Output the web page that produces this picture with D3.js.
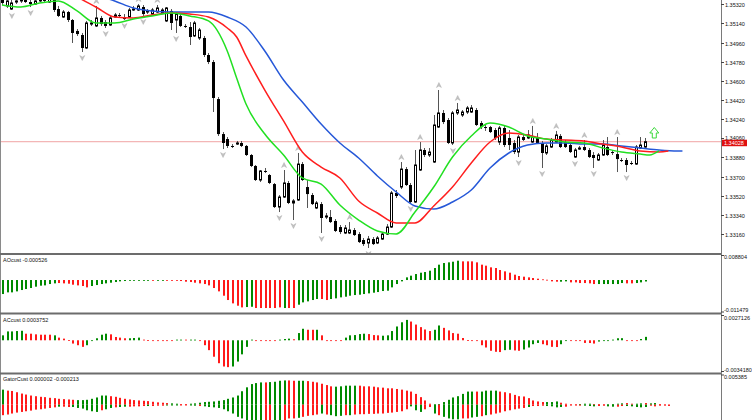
<!DOCTYPE html>
<html>
<head>
<meta charset="utf-8">
<script src="https://cdn.jsdelivr.net/npm/d3@7"></script>
<style>
  body { margin: 0; background: #fff; }
  svg { display: block; font-family: "Liberation Sans", Arial, sans-serif; }
</style>
</head>
<body>
<div id="chart"></div>
<script>
// candles (index 0..137)
const opens = [
  1.35379,1.35304,1.35275,1.35341,1.35351,1.35360,1.35341,1.35322,1.35351,1.35379,
  1.35341,1.35360,1.35275,1.35200,1.35247,1.35172,1.35069,1.35031,1.34909,1.35134,
  1.35116,1.35191,1.35153,1.35125,1.35200,1.35219,1.35200,1.35200,1.35266,1.35266,
  1.35294,1.35247,1.35228,1.35247,1.35238,1.35163,1.35257,1.35172,1.35210,1.35116,
  1.35106,1.35022,1.35003,1.35003,1.34843,1.34777,1.34429,1.34100,1.34053,1.33988,
  1.34006,1.34016,1.33988,1.33903,1.33800,1.33668,1.33753,1.33715,1.33630,1.33414,
  1.33508,1.33640,1.33452,1.33480,1.33818,1.33602,1.33527,1.33405,1.33442,1.33320,
  1.33320,1.33283,1.33226,1.33170,1.33170,1.33198,1.33160,1.33104,1.33076,1.33113,
  1.33076,1.33113,1.33160,1.33226,1.33546,1.33602,1.33771,1.33621,1.33461,1.33762,
  1.33950,1.33903,1.33837,1.34166,1.34298,1.34232,1.34016,1.34298,1.34279,1.34307,
  1.34307,1.34326,1.34204,1.34166,1.34166,1.34138,1.34025,1.34157,1.34063,1.34016,
  1.33931,1.34072,1.34063,1.34025,1.34063,1.34016,1.33922,1.33978,1.34025,1.34082,
  1.34025,1.33997,1.33884,1.33959,1.33978,1.33950,1.33903,1.33856,1.33903,1.33978,
  1.33931,1.33912,1.33856,1.33856,1.33828,1.33818,1.33969,1.33978
];
const highs = [
  1.35407,1.35379,1.35360,1.35369,1.35388,1.35379,1.35360,1.35369,1.35398,1.35398,
  1.35388,1.35379,1.35304,1.35266,1.35257,1.35181,1.35087,1.35050,1.35163,1.35172,
  1.35304,1.35210,1.35172,1.35210,1.35238,1.35238,1.35228,1.35285,1.35304,1.35322,
  1.35313,1.35275,1.35285,1.35313,1.35285,1.35294,1.35275,1.35247,1.35228,1.35134,
  1.35153,1.35163,1.35097,1.35022,1.34862,1.34796,1.34448,1.34119,1.34072,1.34006,
  1.34035,1.34035,1.33997,1.33912,1.33809,1.33762,1.33781,1.33724,1.33640,1.33527,
  1.33762,1.33659,1.33489,1.33922,1.33837,1.33668,1.33546,1.33471,1.33461,1.33358,
  1.33386,1.33301,1.33245,1.33245,1.33273,1.33217,1.33179,1.33123,1.33142,1.33132,
  1.33142,1.33179,1.33254,1.33565,1.33574,1.33837,1.33790,1.33640,1.33950,1.34025,
  1.33969,1.33969,1.34279,1.34514,1.34326,1.34251,1.34317,1.34392,1.34326,1.34364,
  1.34373,1.34345,1.34223,1.34185,1.34176,1.34157,1.34176,1.34176,1.34138,1.34044,
  1.34091,1.34091,1.34138,1.34176,1.34110,1.34035,1.34006,1.34063,1.34129,1.34100,
  1.34044,1.34016,1.33969,1.33988,1.34044,1.33969,1.33931,1.33922,1.34044,1.34072,
  1.33950,1.34072,1.33875,1.33875,1.33847,1.33997,1.34072,1.34063
];
const lows = [
  1.35313,1.35285,1.35266,1.35322,1.35332,1.35332,1.35294,1.35313,1.35341,1.35332,
  1.35332,1.35247,1.35200,1.35191,1.35153,1.34956,1.35022,1.34871,1.34899,1.35116,
  1.35106,1.35116,1.35097,1.35116,1.35191,1.35200,1.35172,1.35191,1.35257,1.35257,
  1.35210,1.35228,1.35219,1.35238,1.35228,1.35153,1.35078,1.35050,1.35106,1.35097,
  1.34937,1.35012,1.34984,1.34824,1.34758,1.34307,1.34082,1.33959,1.33969,1.33969,
  1.33997,1.33978,1.33894,1.33790,1.33659,1.33649,1.33734,1.33630,1.33405,1.33367,
  1.33499,1.33442,1.33292,1.33471,1.33659,1.33405,1.33433,1.33395,1.33170,1.33301,
  1.33264,1.33179,1.33160,1.33160,1.33160,1.33142,1.33076,1.33048,1.33029,1.33057,
  1.33066,1.33104,1.33151,1.33217,1.33499,1.33583,1.33612,1.33452,1.33452,1.33753,
  1.33884,1.33884,1.33828,1.34157,1.34194,1.34006,1.33997,1.34279,1.34260,1.34288,
  1.34298,1.34176,1.34147,1.34129,1.34110,1.34044,1.33997,1.33978,1.33950,1.33912,
  1.33884,1.34035,1.34053,1.34016,1.34006,1.33781,1.33903,1.33969,1.34016,1.33969,
  1.33969,1.33922,1.33875,1.33950,1.33941,1.33875,1.33781,1.33847,1.33894,1.33894,
  1.33903,1.33743,1.33837,1.33743,1.33809,1.33809,1.33959,1.33969
];
const closes = [
  1.35332,1.35351,1.35332,1.35351,1.35369,1.35341,1.35322,1.35351,1.35379,1.35351,
  1.35369,1.35266,1.35210,1.35247,1.35172,1.35050,1.35040,1.34909,1.35144,1.35144,
  1.35191,1.35134,1.35116,1.35191,1.35219,1.35214,1.35181,1.35266,1.35275,1.35304,
  1.35228,1.35257,1.35266,1.35285,1.35266,1.35285,1.35144,1.35228,1.35116,1.35111,
  1.35012,1.35144,1.35078,1.34843,1.34777,1.34439,1.34100,1.34016,1.33988,1.33983,
  1.34016,1.33988,1.33903,1.33800,1.33668,1.33753,1.33748,1.33640,1.33414,1.33508,
  1.33640,1.33452,1.33471,1.33818,1.33668,1.33536,1.33442,1.33452,1.33311,1.33330,
  1.33273,1.33189,1.33179,1.33217,1.33198,1.33151,1.33085,1.33066,1.33113,1.33066,
  1.33123,1.33160,1.33226,1.33546,1.33518,1.33771,1.33621,1.33461,1.33809,1.33950,
  1.33903,1.33931,1.34185,1.34298,1.34213,1.34016,1.34298,1.34326,1.34307,1.34345,
  1.34345,1.34185,1.34166,1.34162,1.34119,1.34063,1.34157,1.33997,1.33997,1.33931,
  1.34072,1.34044,1.34091,1.34072,1.34016,1.33922,1.33988,1.34044,1.34091,1.33978,
  1.33978,1.33931,1.33950,1.33969,1.33950,1.33884,1.33875,1.33903,1.33997,1.33903,
  1.33922,1.33865,1.33851,1.33809,1.33823,1.33978,1.33997,1.34028
];

const fractalUp = [20, 29, 33, 60, 63, 74, 85, 89, 93, 97, 113, 118, 124, 131];
const fractalDown = [2, 6, 17, 22, 26, 30, 37, 47, 59, 62, 68, 78, 87, 96, 110, 115, 122, 126, 133];

// alligator lines read at bar indices
const jawIdx = [0,4,8,12,16,20,24,28,32,36,40,44,48,52,56,60,64,68,72,76,80,84,88,92,96,100,104,108,112,116,120,124,128,132,136,140,144,145];
const jawVals = [1.35623,1.35586,1.35548,1.35501,1.35454,1.35407,1.35351,1.35285,1.35257,1.35247,1.35247,1.35247,1.35200,1.35106,1.34881,1.34608,1.34401,1.34194,1.34016,1.33875,1.33706,1.33555,1.33424,1.33395,1.33461,1.33574,1.33781,1.33922,1.33997,1.34016,1.34016,1.34006,1.34006,1.33988,1.33969,1.33950,1.33941,1.33941];
const teethIdx = [0,4,8,12,16,20,24,28,32,36,40,44,48,50,52,56,60,64,68,72,76,80,84,88,92,96,100,104,108,112,116,120,124,128,132,136,140,142];
const teethVals = [1.35595,1.35567,1.35529,1.35473,1.35388,1.35294,1.35200,1.35191,1.35219,1.35238,1.35228,1.35200,1.35097,1.35012,1.34834,1.34514,1.34223,1.33931,1.33790,1.33687,1.33471,1.33358,1.33264,1.33264,1.33424,1.33602,1.33828,1.34025,1.34110,1.34091,1.34053,1.34044,1.34035,1.34006,1.33978,1.33941,1.33931,1.33941];
const lipsIdx = [0,4,8,12,16,20,24,28,32,36,40,44,48,50,52,56,60,64,68,72,76,80,84,88,92,96,100,104,108,112,116,120,124,128,132,136,138,140];
const lipsVals = [1.35313,1.35294,1.35332,1.35351,1.35257,1.35144,1.35144,1.35181,1.35210,1.35238,1.35210,1.35163,1.34881,1.34627,1.34382,1.34100,1.33903,1.33687,1.33630,1.33433,1.33292,1.33189,1.33160,1.33367,1.33602,1.33884,1.34082,1.34204,1.34166,1.34082,1.34053,1.34025,1.34016,1.33969,1.33931,1.33912,1.33903,1.33941];

const priceTicks = [1.35320,1.35140,1.34960,1.34780,1.34600,1.34420,1.34240,1.34060,1.33880,1.33700,1.33520,1.33340,1.33160];
const bidPrice = 1.34028;
const signalIdx = 139, signalPrice = 1.34063;

// AOcust
const aoVals = [
  -0.00503,-0.00443,-0.00443,-0.00407,-0.00359,-0.00323,-0.00287,-0.00239,-0.00203,-0.00192,
  -0.00144,-0.00120,-0.00108,-0.00120,-0.00132,-0.00168,-0.00192,-0.00215,-0.00263,-0.00215,
  -0.00180,-0.00144,-0.00120,-0.00096,-0.00072,-0.00048,-0.00036,-0.00024,-0.00012,-0.00010,
  -0.00008,-0.00006,-0.00007,-0.00005,-0.00004,-0.00008,-0.00012,-0.00024,-0.00036,-0.00060,
  -0.00072,-0.00096,-0.00120,-0.00144,-0.00192,-0.00287,-0.00407,-0.00563,-0.00718,-0.00838,
  -0.00922,-0.00982,-0.00970,-0.00960,-0.01005,-0.01005,-0.01005,-0.01005,-0.01005,-0.00982,
  -0.01005,-0.01005,-0.01005,-0.00886,-0.00802,-0.00766,-0.00718,-0.00682,-0.00682,-0.00718,
  -0.00682,-0.00658,-0.00622,-0.00599,-0.00563,-0.00539,-0.00527,-0.00503,-0.00479,-0.00455,
  -0.00431,-0.00395,-0.00383,-0.00263,-0.00144,-0.00048,0.00096,0.00156,0.00215,0.00263,
  0.00287,0.00335,0.00431,0.00551,0.00610,0.00634,0.00658,0.00694,0.00670,0.00670,
  0.00670,0.00634,0.00551,0.00515,0.00455,0.00431,0.00359,0.00311,0.00263,0.00192,
  0.00144,0.00120,0.00096,0.00072,0.00048,0.00024,0.00010,-0.00048,-0.00060,-0.00060,
  -0.00048,-0.00084,-0.00084,-0.00108,-0.00108,-0.00120,-0.00144,-0.00144,-0.00144,-0.00144,
  -0.00144,-0.00144,-0.00108,-0.00120,-0.00120,-0.00108,-0.00084,-0.000526
];
const aoUp = [
  1,1,1,1,1,1,1,1,1,1, 1,1,0,0,0,0,0,0,0,1, 1,1,1,1,1,1,1,1,1,1, 1,1,0,1,1,0,0,0,0,0,
  0,0,0,0,0,0,0,0,0,0, 0,0,1,1,0,0,0,0,0,0, 1,0,0,1,1,1,1,1,0,0, 1,1,1,1,1,1,1,1,1,1,
  1,1,1,1,1,1,1,1,1,1, 1,1,1,1,1,1,1,1,0,0, 0,0,0,0,0,0,0,0,0,0, 0,0,0,0,0,0,0,0,0,1,
  1,0,0,0,0,0,0,1,1,1, 1,1,1,0,0,1,1,1
];

// ACcust
const acVals = [
  0.00054,0.00097,0.00097,0.00101,0.00104,0.00072,0.00072,0.00065,0.00061,0.00061,
  0.00061,0.00054,0.00029,0.00018,0.00003,-0.00036,-0.00054,-0.00072,-0.00054,-0.00007,
  0.00022,0.00061,0.00072,0.00065,0.00036,0.00029,0.00022,0.00022,0.00025,0.00029,
  0.00007,0.00002,-0.00004,-0.00005,-0.00007,-0.00007,-0.00005,0.00007,0.00007,0.00007,
  0.00007,0.00007,-0.00007,-0.00054,-0.00108,-0.00180,-0.00251,-0.00287,-0.00294,-0.00287,
  -0.00233,-0.00154,-0.00072,0.00007,-0.00007,-0.00004,-0.00004,-0.00004,-0.00004,0.00007,
  0.00014,0.00018,0.00011,0.00079,0.00126,0.00115,0.00115,0.00115,0.00054,-0.00002,
  -0.00002,-0.00002,-0.00002,0.00029,0.00054,0.00057,0.00068,0.00072,0.00068,0.00057,
  0.00054,0.00050,0.00054,0.00101,0.00151,0.00197,0.00223,0.00205,0.00172,0.00144,
  0.00118,0.00101,0.00115,0.00162,0.00136,0.00108,0.00079,0.00072,0.00025,0.00002,
  -0.00004,-0.00007,-0.00054,-0.00079,-0.00115,-0.00126,-0.00129,-0.00108,-0.00104,-0.00111,
  -0.00115,-0.00101,-0.00079,-0.00043,-0.00029,-0.00043,-0.00054,-0.00072,-0.00074,-0.00043,
  -0.00007,-0.00004,-0.00005,-0.00006,-0.00029,-0.00030,-0.00036,-0.00014,-0.00007,-0.00004,
  0.00007,0.00022,0.00023,-0.00003,-0.00004,-0.00005,0.00014,0.0003752
];
const acUp = [
  1,1,1,1,1,0,0,0,0,0, 0,1,0,0,0,0,0,0,1,1, 1,1,1,0,0,0,0,1,1,1, 0,0,0,0,0,0,0,1,1,0,
  1,1,0,0,0,0,0,0,0,1, 1,1,1,1,0,0,0,0,0,1, 1,1,0,1,1,0,0,1,0,0, 0,0,0,1,1,1,1,1,0,0,
  0,1,1,1,1,1,1,0,0,0, 0,0,1,1,0,0,0,0,0,0, 0,0,0,0,0,0,0,1,1,0, 0,1,1,1,1,0,0,0,0,1,
  1,0,0,0,0,0,0,1,1,1, 1,1,1,0,0,0,1,1
];

// GatorCust (index 0..142, runs 5 bars past the last candle)
const gatorUp = [
  0.00273,0.00255,0.00249,0.00226,0.00202,0.00184,0.00166,0.00154,0.00143,0.00137,
  0.00125,0.00119,0.00107,0.00101,0.00095,0.00089,0.00083,0.00083,0.00089,0.00107,
  0.00131,0.00166,0.00166,0.00154,0.00143,0.00125,0.00107,0.00095,0.00083,0.00077,
  0.00071,0.00065,0.00053,0.00042,0.00036,0.00030,0.00024,0.00018,0.00012,0.00012,
  0.00018,0.00024,0.00036,0.00048,0.00053,0.00059,0.00071,0.00083,0.00107,0.00131,
  0.00166,0.00244,0.00315,0.00374,0.00392,0.00404,0.00404,0.00410,0.00416,0.00434,
  0.00440,0.00440,0.00434,0.00434,0.00434,0.00428,0.00416,0.00404,0.00380,0.00356,
  0.00333,0.00327,0.00333,0.00345,0.00345,0.00345,0.00345,0.00333,0.00333,0.00327,
  0.00315,0.00309,0.00297,0.00297,0.00285,0.00273,0.00255,0.00238,0.00196,0.00137,
  0.00077,0.00018,0.00006,0.00012,0.00048,0.00089,0.00131,0.00154,0.00196,0.00238,
  0.00238,0.00238,0.00238,0.00255,0.00255,0.00255,0.00238,0.00226,0.00208,0.00178,
  0.00154,0.00149,0.00119,0.00077,0.00059,0.00048,0.00048,0.00048,0.00059,0.00036,
  0.00018,0.00006,0.00006,0.00012,0.00018,0.00018,0.00012,0.00012,0.00006,0.00006,
  0.00012,0.00018,0.00024,0.00030,0.00018,0.00018,0.00024,0.00030,0.00024,0.00030,
  0.00012,0.00004,0.000002
];
const gatorUpCol = [
  1,0,0,0,0,0,0,0,0,0, 0,0,0,0,0,0,1,1,1,1, 1,1,1,0,0,0,0,0,0,0, 0,0,0,0,0,0,1,1,0,0,
  1,1,1,1,1,1,1,1,1,1, 1,1,1,1,1,1,0,1,1,1, 1,0,0,1,1,0,0,0,0,0, 0,1,1,1,1,1,0,0,0,0,
  0,0,0,0,0,0,0,0,0,0, 0,0,1,1,1,1,1,1,1,1, 1,0,1,1,1,1,0,0,0,0, 0,0,0,0,0,0,1,1,1,0,
  0,0,0,1,1,1,0,0,0,1, 1,1,1,0,0,1,1,0,1,1, 0,0,0
];
const gatorLo = [
  -0.00190,-0.00178,-0.00160,-0.00143,-0.00131,-0.00119,-0.00107,-0.00089,-0.00083,-0.00071,
  -0.00059,-0.00048,-0.00036,-0.00036,-0.00042,-0.00042,-0.00059,-0.00071,-0.00101,-0.00119,
  -0.00131,-0.00101,-0.00083,-0.00059,-0.00048,-0.00042,-0.00036,-0.00036,-0.00030,-0.00030,
  -0.00024,-0.00024,-0.00024,-0.00018,-0.00018,-0.00012,-0.00012,-0.00012,-0.00006,-0.00006,
  -0.00012,-0.00018,-0.00024,-0.00030,-0.00042,-0.00048,-0.00059,-0.00083,-0.00119,-0.00160,
  -0.00220,-0.00249,-0.00300,-0.00310,-0.00320,-0.00330,-0.00320,-0.00310,-0.00320,-0.00330,
  -0.00320,-0.00249,-0.00249,-0.00238,-0.00220,-0.00202,-0.00190,-0.00178,-0.00160,-0.00178,
  -0.00190,-0.00208,-0.00202,-0.00190,-0.00190,-0.00178,-0.00172,-0.00172,-0.00166,-0.00166,
  -0.00160,-0.00160,-0.00148,-0.00143,-0.00131,-0.00119,-0.00083,-0.00030,-0.00101,-0.00131,
  -0.00083,-0.00042,-0.00160,-0.00190,-0.00220,-0.00249,-0.00265,-0.00265,-0.00249,-0.00249,
  -0.00232,-0.00220,-0.00208,-0.00190,-0.00178,-0.00160,-0.00143,-0.00119,-0.00101,-0.00083,
  -0.00071,-0.00059,-0.00042,-0.00024,-0.00024,-0.00018,-0.00024,-0.00030,-0.00048,-0.00042,
  -0.00036,-0.00012,-0.00012,-0.00018,-0.00018,-0.00024,-0.00030,-0.00024,-0.00018,-0.00030,
  -0.00036,-0.00036,-0.00024,-0.00024,-0.00030,-0.00042,-0.00048,-0.00042,-0.00018,-0.00030,
  -0.00018,-0.00015,-0.000213
];
const gatorLoCol = [
  0,0,0,0,0,0,0,0,0,0, 0,0,1,0,0,1,1,1,1,1, 1,0,1,1,0,1,1,0,0,0, 0,1,0,0,0,1,1,1,0,0,
  1,1,0,1,1,1,1,1,1,1, 1,1,1,1,1,1,0,0,1,1, 0,0,0,1,0,0,0,0,1,0, 1,1,1,0,1,0,0,0,0,0,
  0,0,0,0,0,0,0,1,1,1, 0,0,1,0,1,1,1,1,0,0, 1,1,0,1,0,0,0,0,0,0, 0,0,1,0,0,0,1,1,1,1,
  0,0,0,0,1,1,1,0,0,1, 1,0,0,1,1,1,1,1,0,0, 0,0,0
];

const width = 752, height = 420;
const axisX = 721;
const green = "#008a00", red = "#ff1a1a";

const svg = d3.select("#chart")
  .append("svg")
  .attr("width", width)
  .attr("height", height);

const x = d3.scaleLinear().domain([0, 137]).range([2, 644.9]);
const yMain = d3.scaleLinear().domain([1.32982, 1.35360]).range([253, 0]);
const yAO = d3.scaleLinear().domain([-0.011479, 0.008804]).range([312, 255.5]);
const yAC = d3.scaleLinear().domain([-0.0034180, 0.0027126]).range([371.5, 315.5]);
const yGator = d3.scaleLinear().domain([0, 0.005385]).range([404.7, 375]);

svg.append("defs").append("clipPath").attr("id", "clipMain")
  .append("rect").attr("x", 0).attr("y", 0).attr("width", axisX).attr("height", 253);

const main = svg.append("g").attr("clip-path", "url(#clipMain)");

// bid line
main.append("line")
  .attr("x1", 0).attr("x2", axisX)
  .attr("y1", yMain(bidPrice)).attr("y2", yMain(bidPrice))
  .attr("stroke", "#f0a4a4").attr("stroke-width", 1);

// candles
const candles = opens.map((o, i) => ({ i, o, h: highs[i], l: lows[i], c: closes[i] }));
const cx = d => Math.round(x(d.i));

main.selectAll(".wick").data(candles).join("line")
  .attr("class", "wick")
  .attr("x1", d => cx(d) + 0.5).attr("x2", d => cx(d) + 0.5)
  .attr("y1", d => yMain(d.h)).attr("y2", d => yMain(d.l))
  .attr("stroke", "#555").attr("stroke-width", 1);

main.selectAll(".body").data(candles).join("rect")
  .attr("class", "body")
  .attr("x", d => d.c >= d.o ? cx(d) - 0.5 : cx(d) - 1)
  .attr("width", d => d.c >= d.o ? 2 : 3)
  .attr("y", d => yMain(Math.max(d.o, d.c)))
  .attr("height", d => Math.max(d.c >= d.o ? 0.5 : 1, Math.abs(yMain(d.o) - yMain(d.c))))
  .attr("fill", d => d.c >= d.o ? "#fff" : "#000")
  .attr("stroke", d => d.c >= d.o ? "#000" : "none")
  .attr("stroke-width", 1);

// fractal arrows
const arrowFill = "#c4c4c4", arrowStroke = "#a4a4a4";
main.selectAll(".fup").data(fractalUp).join("path")
  .attr("class", "fup")
  .attr("d", i => {
    const ax = x(i) + 0.5, ay = yMain(highs[i]) - 5;
    return `M${ax},${ay - 2.5}L${ax + 2.5},${ay + 2.5}L${ax},${ay + 1}L${ax - 2.5},${ay + 2.5}Z`;
  })
  .attr("fill", arrowFill).attr("stroke", arrowStroke).attr("stroke-width", 0.4);

main.selectAll(".fdn").data(fractalDown).join("path")
  .attr("class", "fdn")
  .attr("d", i => {
    const ax = x(i) + 0.5, ay = yMain(lows[i]) + 6;
    return `M${ax},${ay + 2.5}L${ax + 2.5},${ay - 2.5}L${ax},${ay - 1}L${ax - 2.5},${ay - 2.5}Z`;
  })
  .attr("fill", arrowFill).attr("stroke", arrowStroke).attr("stroke-width", 0.4);

// alligator
const line = d3.line()
  .x(d => x(d[0]))
  .y(d => yMain(d[1]))
  .curve(d3.curveMonotoneX);

[[jawIdx, jawVals, "#2658d8"], [teethIdx, teethVals, "#ff1e1e"], [lipsIdx, lipsVals, "#22e022"]]
  .forEach(([idx, vals, col]) => {
    main.append("path")
      .datum(idx.map((k, j) => [k, vals[j]]))
      .attr("d", line)
      .attr("fill", "none")
      .attr("stroke", col)
      .attr("stroke-width", 1.5);
  });

// signal arrow
{
  const sx = x(signalIdx), sy = yMain(signalPrice);
  main.append("path")
    .attr("d", `M${sx - 2},${sy}L${sx - 2},${sy - 5}L${sx - 4.5},${sy - 5}L${sx},${sy - 10.5}L${sx + 4.5},${sy - 5}L${sx + 2},${sy - 5}L${sx + 2},${sy}Z`)
    .attr("fill", "#fff").attr("stroke", "#3ad83a").attr("stroke-width", 1);
}

// histograms
function bars(vals, up, scale) {
  const g = svg.append("g");
  g.selectAll("rect").data(vals).join("rect")
    .attr("x", (v, i) => Math.round(x(i)))
    .attr("width", 2)
    .attr("y", v => Math.min(scale(v), scale(0)))
    .attr("height", v => Math.max(0.8, Math.abs(scale(v) - scale(0))))
    .attr("fill", (v, i) => up[i] ? green : red);
}
bars(aoVals, aoUp, yAO);
bars(acVals, acUp, yAC);
bars(gatorUp, gatorUpCol, yGator);
bars(gatorLo, gatorLoCol, yGator);

// frame
svg.append("line").attr("x1", 0.5).attr("x2", 0.5).attr("y1", 0).attr("y2", height)
  .attr("stroke", "#8a8a8a");
svg.append("line").attr("x1", axisX + 0.5).attr("x2", axisX + 0.5).attr("y1", 0).attr("y2", height)
  .attr("stroke", "#7a7a7a");
[254, 313.5, 373.5].forEach(sy => {
  svg.append("line").attr("x1", 0).attr("x2", axisX).attr("y1", sy).attr("y2", sy)
    .attr("stroke", "#6c6c6c").attr("stroke-width", 1.8);
});

// price axis
const axisG = svg.append("g");
priceTicks.forEach(p => {
  const ty = Math.round(yMain(p)) + 0.5;
  axisG.append("line").attr("x1", axisX).attr("x2", axisX + 3).attr("y1", ty).attr("y2", ty)
    .attr("stroke", "#444");
  axisG.append("text").attr("x", axisX + 4).attr("y", ty - (p === 1.34060 ? 1 : 0))
    .attr("dominant-baseline", "central")
    .attr("font-size", 5.5).attr("fill", "#111")
    .text(p.toFixed(5));
});

const by = yMain(bidPrice);
axisG.append("rect").attr("x", axisX + 1).attr("y", by - 2).attr("width", 25).attr("height", 6.5)
  .attr("fill", "#e01010");
axisG.append("text").attr("x", axisX + 3).attr("y", by + 1.3)
  .attr("dominant-baseline", "central")
  .attr("font-size", 5.5).attr("fill", "#fff")
  .text(bidPrice.toFixed(5));

// indicator scale labels
const subLabels = [
  [yAO, 0.008804, "0.008804", 1.3],
  [yAO, -0.011479, "-0.011479", -2],
  [yAC, 0.0027126, "0.0027126", 2.2],
  [yAC, -0.0034180, "-0.0034180", -1.5],
  [yGator, 0.005385, "0.005385", 2.3]
];
subLabels.forEach(([s, v, t, off]) => {
  const ty = s(v);
  axisG.append("line").attr("x1", axisX).attr("x2", axisX + 3).attr("y1", ty).attr("y2", ty)
    .attr("stroke", "#444");
  axisG.append("text").attr("x", axisX + 3).attr("y", ty + off)
    .attr("dominant-baseline", "central")
    .attr("font-size", 5.5).attr("fill", "#111")
    .text(t);
});

// indicator names
[["AOcust -0.000526", 260], ["ACcust 0.0003752", 320], ["GatorCust 0.000002 -0.000213", 379]]
  .forEach(([t, ty]) => {
    svg.append("text").attr("x", 3).attr("y", ty)
      .attr("dominant-baseline", "central")
      .attr("font-size", 5.5).attr("fill", "#111")
      .text(t);
  });
</script>
</body>
</html>
